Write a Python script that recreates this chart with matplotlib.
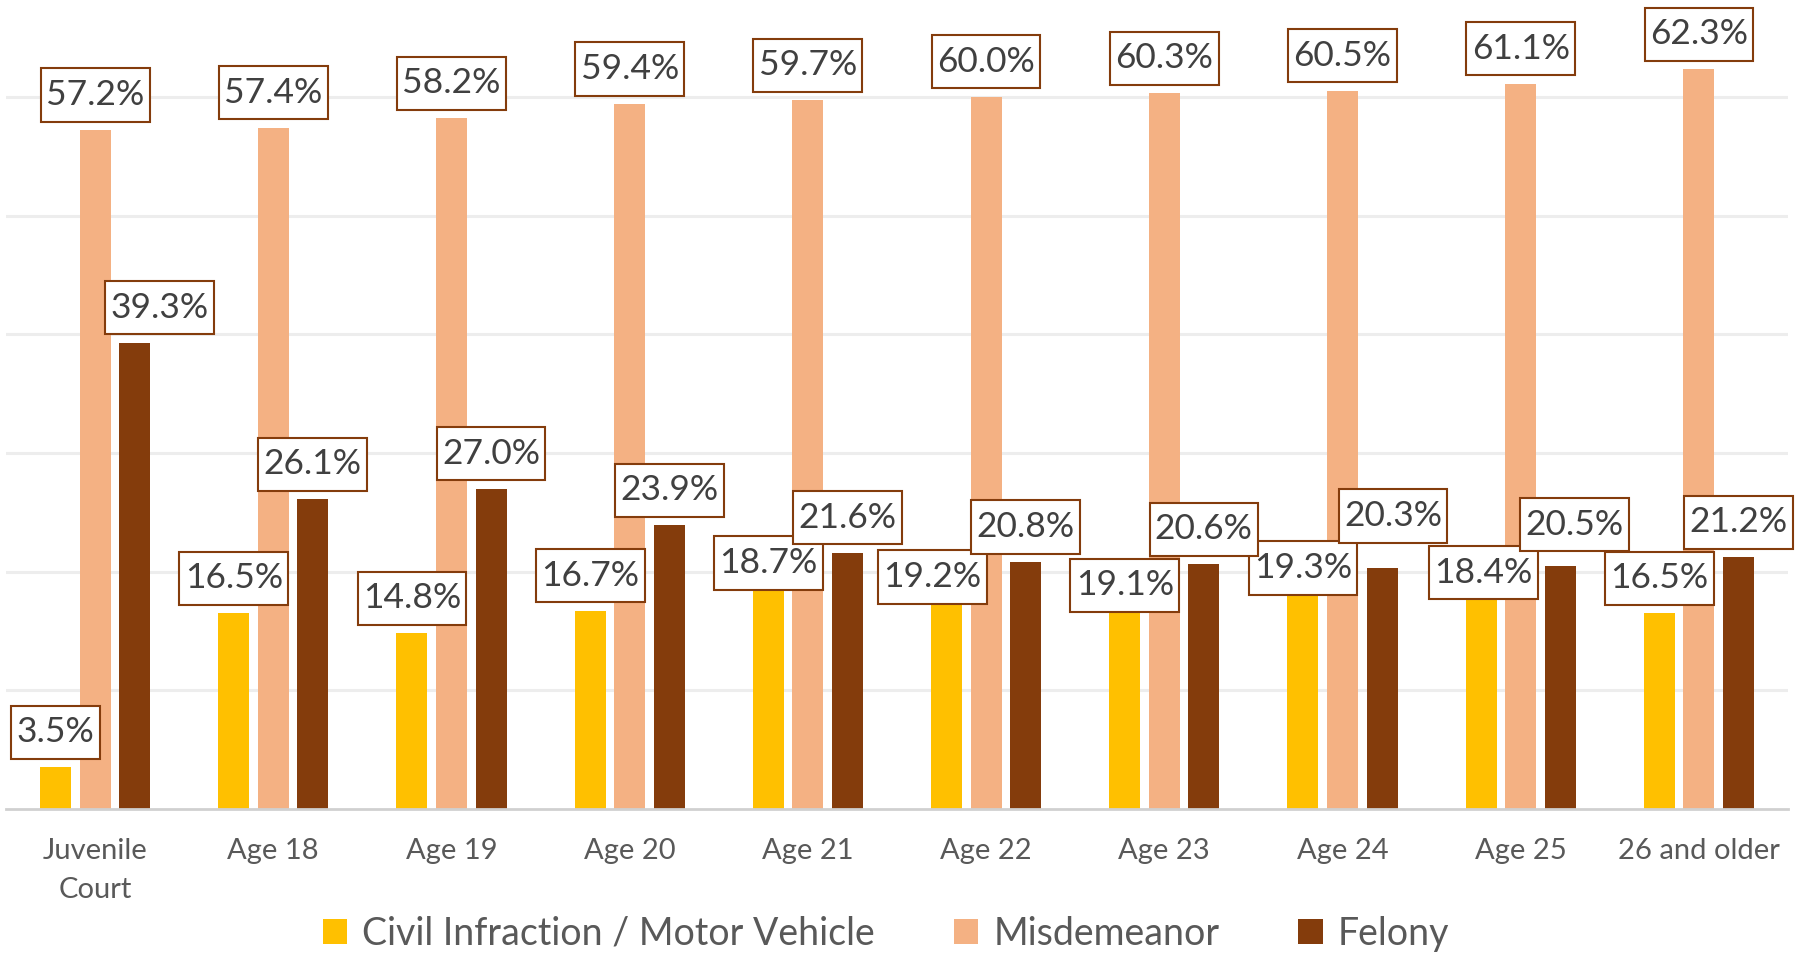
import matplotlib.pyplot as plt
from matplotlib.path import Path
import numpy as np

# categories and series values (percent)
categories = ['Juvenile\nCourt', 'Age 18', 'Age 19', 'Age 20', 'Age 21',
              'Age 22', 'Age 23', 'Age 24', 'Age 25', '26 and older']
series_names = ['Civil Infraction / Motor Vehicle', 'Misdemeanor', 'Felony']
civil = [3.5, 16.5, 14.8, 16.7, 18.7, 19.2, 19.1, 19.3, 18.4, 16.5]
misdemeanor = [57.2, 57.4, 58.2, 59.4, 59.7, 60.0, 60.3, 60.5, 61.1, 62.3]
felony = [39.3, 26.1, 27.0, 23.9, 21.6, 20.8, 20.6, 20.3, 20.5, 21.2]

colors = ['#FFC000', '#F4B183', '#843C0C']

# label nudges (pixels) where the boxes were moved to avoid overlaps
# key: (series index, category index) -> (dx, dy)
default_dy = 35
nudges = {
    (0, 4): (0, 24), (0, 5): (-14, 4), (0, 6): (0, -3),
    (0, 7): (0, 12), (0, 8): (2, 18),
    (2, 0): (25, 35), (2, 7): (11, 52), (2, 8): (14, 41),
}


# plain rectangle with its own x / y padding, like the excel data labels
def label_box(x0, y0, width, height, mutation_size):
    padx = 0.15 * mutation_size
    pady = 0.30 * mutation_size
    x0, y0 = x0 - padx, y0 - pady
    x1, y1 = x0 + width + 2 * padx, y0 + height + 2 * pady
    return Path([(x0, y0), (x1, y0), (x1, y1), (x0, y1), (x0, y0)], closed=True)


plt.rcParams['font.family'] = ['Lato', 'DejaVu Sans']

fig = plt.figure(figsize=(18.05, 9.56), dpi=100)
ax = fig.add_axes([6 / 1805, 147 / 956, 1782 / 1805, 809 / 956])

x = np.arange(len(categories))
width = 0.174
step = 0.2217
all_series = [civil, misdemeanor, felony]

for i, vals in enumerate(all_series):
    pos = x + (i - 1) * step
    ax.bar(pos, vals, width, color=colors[i], label=series_names[i], zorder=2)
    for j, v in enumerate(vals):
        dx, dy = nudges.get((i, j), (0, default_dy))
        ax.annotate(f'{v:.1f}%', xy=(pos[j], v), xytext=(dx, dy),
                    textcoords='offset pixels', ha='center', va='center',
                    fontsize=25.5, color='#404040', zorder=5,
                    bbox=dict(boxstyle=label_box, fc='white',
                              ec='#843C0C', lw=1.5))

ax.set_xlim(-0.5, len(categories) - 0.5)
ax.set_ylim(0, 809 / 11.87)
ax.set_yticks(np.arange(10, 61, 10))
ax.set_yticklabels([])
ax.tick_params(axis='y', length=0)
ax.grid(axis='y', color='#EDEDED', lw=2.2, zorder=0)
ax.set_xticks(x)
ax.set_xticklabels(categories, fontsize=21, color='#595959', linespacing=1.6)
ax.tick_params(axis='x', length=0, pad=21)

for s in ['top', 'right', 'left']:
    ax.spines[s].set_visible(False)
ax.spines['bottom'].set_color('#D0D0D0')
ax.spines['bottom'].set_linewidth(2)

fig.legend(loc='center', bbox_to_anchor=(886 / 1805, 1 - 934 / 956), ncol=3,
           frameon=False, fontsize=27, labelcolor='#595959',
           handlelength=0.65, handleheight=0.65, handletextpad=0.4,
           columnspacing=2.1)

plt.savefig('out.png', dpi=100)
